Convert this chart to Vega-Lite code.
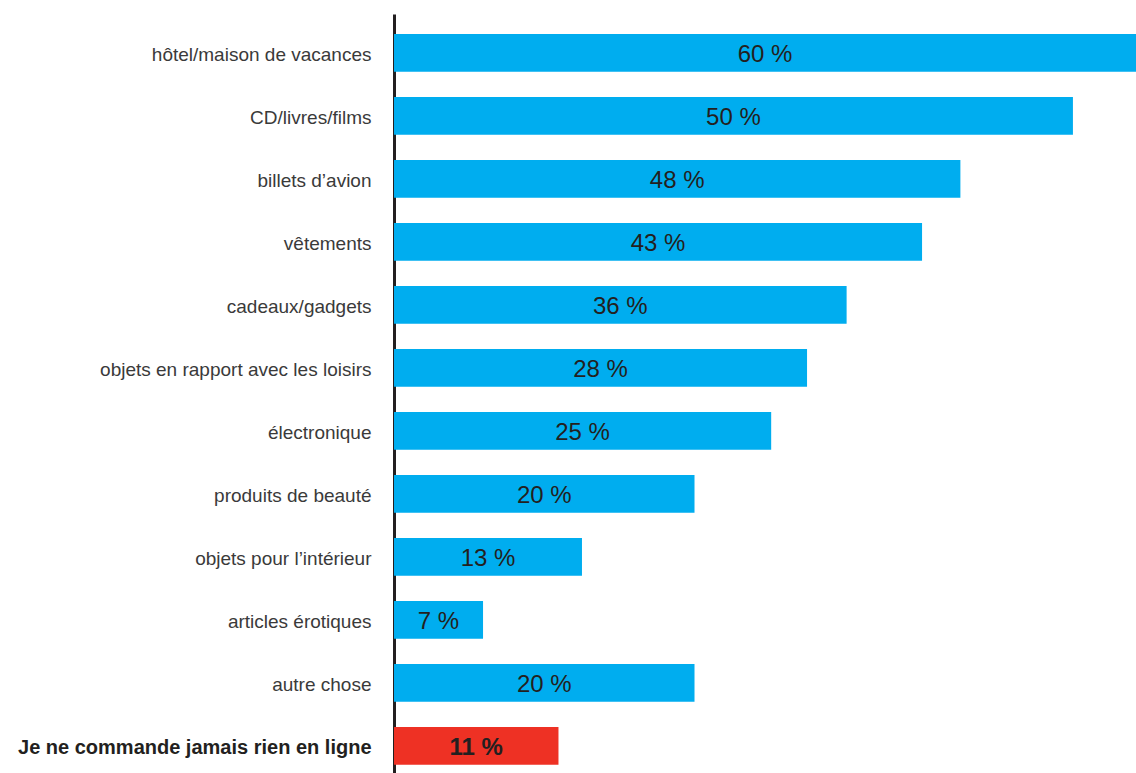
{
  "$schema": "https://vega.github.io/schema/vega-lite/v6.json",
  "autosize": {"type": "none"},
  "padding": {"left": 394, "top": 14, "right": 0, "bottom": 0},
  "width": 742,
  "height": 759,
  "background": "white",
  "config": {"view": {"stroke": null}},
  "data": {
    "values": [
      {"categorie": "hôtel/maison de vacances", "etiquette": "60 %", "longueur": 60, "groupe": "achat"},
      {"categorie": "CD/livres/films", "etiquette": "50 %", "longueur": 54.9, "groupe": "achat"},
      {"categorie": "billets d’avion", "etiquette": "48 %", "longueur": 45.8, "groupe": "achat"},
      {"categorie": "vêtements", "etiquette": "43 %", "longueur": 42.7, "groupe": "achat"},
      {"categorie": "cadeaux/gadgets", "etiquette": "36 %", "longueur": 36.6, "groupe": "achat"},
      {"categorie": "objets en rapport avec les loisirs", "etiquette": "28 %", "longueur": 33.4, "groupe": "achat"},
      {"categorie": "électronique", "etiquette": "25 %", "longueur": 30.5, "groupe": "achat"},
      {"categorie": "produits de beauté", "etiquette": "20 %", "longueur": 24.3, "groupe": "achat"},
      {"categorie": "objets pour l’intérieur", "etiquette": "13 %", "longueur": 15.2, "groupe": "achat"},
      {"categorie": "articles érotiques", "etiquette": "7 %", "longueur": 7.2, "groupe": "achat"},
      {"categorie": "autre chose", "etiquette": "20 %", "longueur": 24.3, "groupe": "achat"},
      {"categorie": "Je ne commande jamais rien en ligne", "etiquette": "11 %", "longueur": 13.3, "groupe": "jamais"}
    ]
  },
  "encoding": {
    "y": {
      "field": "categorie",
      "type": "nominal",
      "sort": null,
      "scale": {"paddingInner": 0.4, "paddingOuter": 0.224, "align": 0.71},
      "axis": {
        "title": null,
        "domain": true,
        "domainColor": "#231f20",
        "domainWidth": 3,
        "ticks": false,
        "grid": false,
        "labelPadding": 23,
        "labelOffset": 2,
        "labelLimit": 0,
        "labelFont": "Liberation Sans",
        "labelFontSize": {"condition": {"test": "datum.value == 'Je ne commande jamais rien en ligne'", "value": 20}, "value": 19},
        "labelColor": {"condition": {"test": "datum.value == 'Je ne commande jamais rien en ligne'", "value": "#231f20"}, "value": "#3a3a3a"},
        "labelFontWeight": {"condition": {"test": "datum.value == 'Je ne commande jamais rien en ligne'", "value": "bold"}, "value": "normal"}
      }
    }
  },
  "layer": [
    {
      "mark": {"type": "bar"},
      "encoding": {
        "x": {"field": "longueur", "type": "quantitative", "scale": {"domain": [0, 60], "nice": false, "zero": true}, "axis": null},
        "color": {"field": "groupe", "type": "nominal", "scale": {"domain": ["achat", "jamais"], "range": ["#00adef", "#ee3124"]}, "legend": null}
      }
    },
    {
      "mark": {"type": "text", "align": "center", "baseline": "middle", "font": "Liberation Sans", "fontSize": 24, "color": "#231f20", "dy": 2,
        "fontWeight": {"expr": "datum.groupe == 'jamais' ? 'bold' : 'normal'"}},
      "encoding": {
        "x": {"field": "longueur", "type": "quantitative", "scale": {"domain": [0, 120], "nice": false, "zero": true}, "axis": null},
        "text": {"field": "etiquette"}
      }
    }
  ],
  "resolve": {"scale": {"x": "independent"}}
}
